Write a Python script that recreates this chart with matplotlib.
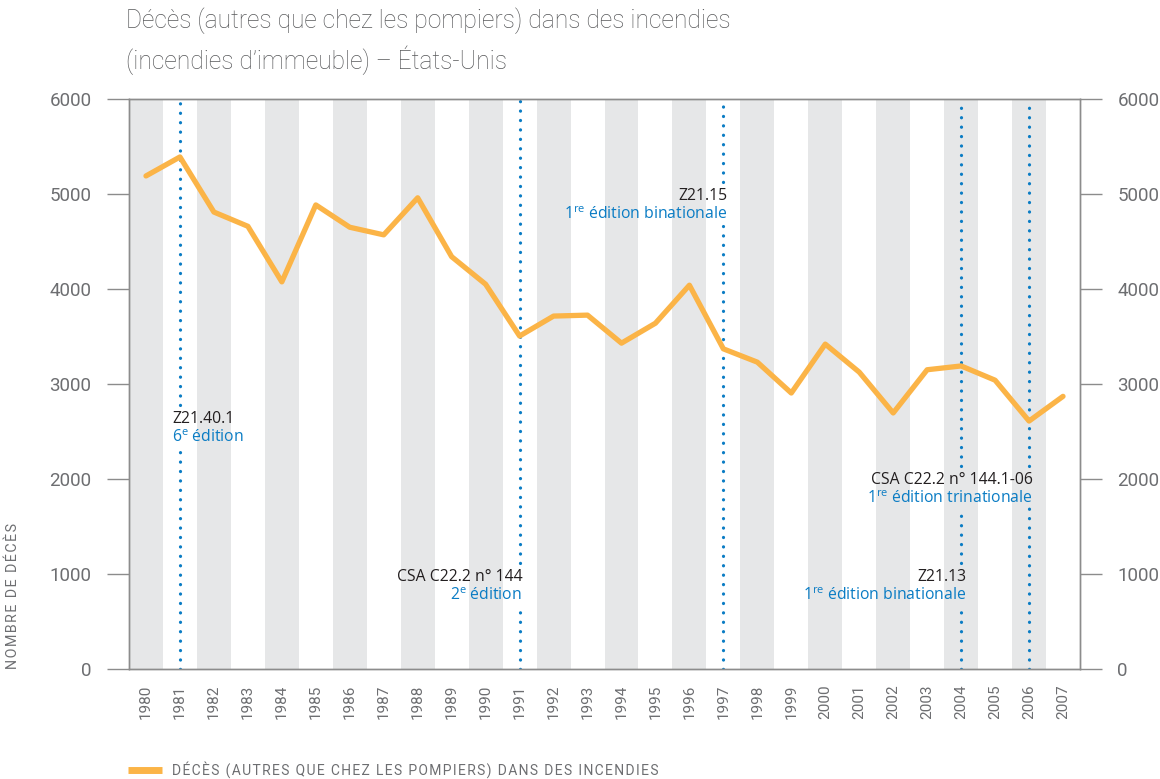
import matplotlib
matplotlib.use("Agg")
import matplotlib.pyplot as plt
import numpy as np

years = list(range(1980, 2008))
deaths = [5190, 5390, 4810, 4660, 4075, 4885, 4650, 4570, 4960, 4340,
          4050, 3505, 3715, 3725, 3430, 3640, 4040, 3370, 3230, 2905,
          3420, 3125, 2695, 3150, 3190, 3040, 2610, 2870]
yticks = [0, 1000, 2000, 3000, 4000, 5000, 6000]
marker_years = [1981, 1991, 1997, 2004, 2006]

title = "Décès (autres que chez les pompiers) dans des incendies\n(incendies d\u2019immeuble) \u2013 États-Unis"
legend_label = "DÉCÈS (AUTRES QUE CHEZ LES POMPIERS) DANS DES INCENDIES"
ylabel = "NOMBRE DE DÉCÈS"

plt.rcParams['mathtext.fontset'] = 'custom'
plt.rcParams['mathtext.rm'] = 'Open Sans'

GRAY_TXT = '#6d6e71'
TITLE_C = '#58595b'
AXC = '#8c8c8c'
BAND = '#e6e7e8'
ORANGE = '#fbb447'
BLUE = '#0a7cc4'
BLACK = '#231f20'
FAM = ['Roboto', 'DejaVu Sans']


def spaced(s):
    return '\u200a'.join(s)


fig = plt.figure(figsize=(11.6, 7.79), dpi=100)
ax = fig.add_axes([129/1160, 1-669/779, (1080-129)/1160, (669-99)/779])
n = len(years)
x = np.arange(n)

for i in range(0, n, 2):
    ax.axvspan(i-0.5, i+0.5, color=BAND, lw=0, zorder=0)

# vertical dotted lines with gaps for the annotations
gaps = {1981: [(2330, 2780)], 1991: [(640, 1115)], 1997: [(4665, 5125)],
        2004: [(650, 1115), (1650, 2135)], 2006: [(1725, 2135)]}
for yr in marker_years:
    xi = years.index(yr)
    segs = []
    top = 6000
    for lo, hi in sorted(gaps[yr], key=lambda t: -t[1]):
        segs.append((hi, top))
        top = lo
    segs.append((0, top))
    for lo, hi in segs:
        ax.plot([xi, xi], [lo, hi], color=BLUE, lw=2.3, linestyle=(0, (0.05, 2.9)),
                dash_capstyle='round', zorder=2)

ax.plot(x, deaths, color=ORANGE, lw=3.8, solid_joinstyle='round',
        solid_capstyle='round', zorder=3, label=legend_label)

ax.set_xlim(-0.5, n-0.5)
ax.set_ylim(0, 6000)
ax.set_yticks(yticks)
ax.set_xticks(x)
ax.set_xticklabels([str(y) for y in years], rotation=90, fontsize=11,
                   color=GRAY_TXT, family=FAM)
ax.tick_params(axis='x', length=0, pad=11)
ax.tick_params(axis='y', length=16, width=1, color=AXC, labelsize=13.5,
               labelcolor=GRAY_TXT, pad=11)
for lab in ax.get_yticklabels():
    lab.set_family(FAM)
for s in ax.spines.values():
    s.set_color(AXC)
    s.set_linewidth(1)

ax2 = ax.twinx()
ax2.set_ylim(0, 6000)
ax2.set_yticks(yticks)
ax2.tick_params(axis='y', length=16, width=1, color=AXC, labelsize=13.5,
                labelcolor=GRAY_TXT, pad=11)
for lab in ax2.get_yticklabels():
    lab.set_family(FAM)
for s in ax2.spines.values():
    s.set_color(AXC)
    s.set_linewidth(1)


def note(xd, yd, l1, l2, ha):
    ax.text(xd, yd, l1, color=BLACK, fontsize=11.3, family='Open Sans',
            ha=ha, va='center', zorder=4)
    ax.text(xd, yd-200, l2, color=BLUE, fontsize=11.3, family='Open Sans',
            ha=ha, va='center', zorder=4)


note(0.77, 2632, "Z21.40.1", "6$^{\\mathrm{e}}$ édition", 'left')
note(11.08, 968, "CSA C22.2 n° 144", "2$^{\\mathrm{e}}$ édition", 'right')
note(17.12, 4979, "Z21.15", "1$^{\\mathrm{re}}$ édition binationale", 'right')
note(26.11, 1989, "CSA C22.2 n° 144.1-06", "1$^{\\mathrm{re}}$ édition trinationale", 'right')
note(24.14, 968, "Z21.13", "1$^{\\mathrm{re}}$ édition binationale", 'right')

fig.text(126/1160, 1-41/779, title, fontsize=17.7, color=TITLE_C, family=FAM,
         fontweight='light', ha='left', va='center', linespacing=1.5)

fig.text(13/1160, 1-669/779, spaced(ylabel), rotation=90, fontsize=10.3, color=GRAY_TXT,
         family=FAM, ha='center', va='bottom')

# legend
leg = fig.legend(handles=ax.get_lines()[-1:], labels=[spaced(legend_label)],
                 loc='center left', bbox_to_anchor=(115/1160, 1-770/779),
                 frameon=False, handlelength=2.5, handletextpad=0.7,
                 prop={'family': FAM, 'size': 10})
for t in leg.get_texts():
    t.set_color(GRAY_TXT)
for h in leg.legend_handles:
    h.set_linewidth(5)
    h.set_solid_capstyle('butt')

fig.savefig("out.png", dpi=100)
